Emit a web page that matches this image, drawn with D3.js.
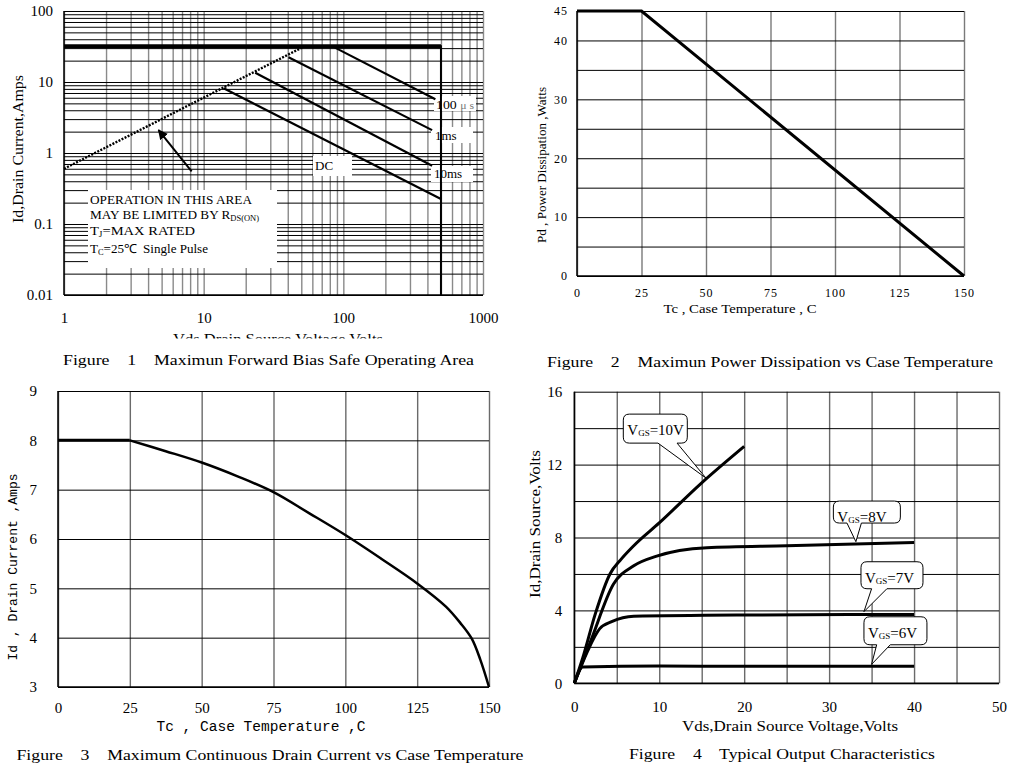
<!DOCTYPE html>
<html><head><meta charset="utf-8">
<script src="https://cdn.jsdelivr.net/npm/d3@7"></script>
<style>
body{margin:0;background:#fff;}
svg{display:block;}
text{font-family:"Liberation Serif","Times New Roman",serif;fill:#000;white-space:pre;}
.mono{font-family:"Liberation Mono","DejaVu Sans Mono",monospace;}
</style></head><body>
<svg id="c" width="1013" height="766"></svg>
<script>
// ---------- Figure 1 : Safe operating area (log-log) ----------
const fig1XTicks = [1, 10, 100, 1000];
const fig1YTicks = [0.01, 0.1, 1, 10, 100];
const fig1Limit = [[1, 32], [500, 32], [500, 0.01]];
const fig1Rds = [[1, 0.6], [53, 32]];
const fig1P100us = [[83, 32], [456, 5.7]];
const fig1P1ms = [[40.5, 22.3], [432, 2.1]];
const fig1P10ms = [[23.4, 13.5], [432, 0.66]];
const fig1DC = [[13.9, 8.15], [500, 0.225]];
const fig1Arrow = [[8.2, 0.55], [4.75, 2.1]];

// ---------- Figure 2 : Power dissipation ----------
const fig2XTicks = [0, 25, 50, 75, 100, 125, 150];
const fig2YTicks = [0, 10, 20, 30, 40, 45];
const fig2YGrid = [0, 5, 10, 15, 20, 25, 30, 35, 40, 45];
const fig2Tc = [0, 25, 150];
const fig2Pd = [45, 45, 0];

// ---------- Figure 3 : Continuous drain current ----------
const fig3XTicks = [0, 25, 50, 75, 100, 125, 150];
const fig3YTicks = [3, 4, 5, 6, 7, 8, 9];
const fig3FlatTc = [0, 25];
const fig3FlatId = [8, 8];
const fig3Tc = [25, 37.5, 50, 62.5, 75, 87.5, 100, 112.5, 125, 135, 140, 144, 147, 150];
const fig3Id = [8, 7.78, 7.55, 7.27, 6.95, 6.52, 6.08, 5.6, 5.1, 4.63, 4.3, 3.98, 3.55, 3.0];

// ---------- Figure 4 : Output characteristics ----------
const fig4XTicks = [0, 10, 20, 30, 40, 50];
const fig4XGrid = [0, 5, 10, 15, 20, 25, 30, 35, 40, 45, 50];
const fig4YTicks = [0, 4, 8, 12, 16];
const fig4YGrid = [0, 2, 4, 6, 8, 10, 12, 14, 16];
const fig4Vds10 = [0, 1, 2.5, 4.2, 5.5, 7, 10, 15, 20];
const fig4Id10 = [0, 1.4, 3.85, 6.0, 6.8, 7.55, 8.8, 11.0, 13.0];
const fig4Vds8 = [0, 2, 4.6, 7, 9.7, 15.6, 25, 40];
const fig4Id8 = [0, 2.4, 5.43, 6.45, 6.98, 7.44, 7.55, 7.72];
const fig4Vds7 = [0, 1.5, 3, 4.4, 7, 20, 40];
const fig4Id7 = [0, 1.7, 3.0, 3.38, 3.68, 3.75, 3.78];
const fig4Vds6 = [0, 1, 10, 20, 40];
const fig4Id6 = [0, 0.9, 0.95, 0.93, 0.93];
const fig4Labels = ['=10V', '=8V', '=7V', '=6V'];
const fig4CalloutTip = [[15.5, 11.26], [33.15, 7.77], [34.1, 3.93], [35.0, 1.04]];
const fig4CalloutBox = [[5.77, 14.77], [30.5, 10.0], [33.75, 6.67], [34.1, 3.65]];
const fig4CalloutBase = [[9.85, 12.1], [32.1, 33.8], [35.0, 36.8], [35.6, 37.2]];
const fig4CalloutSize = [[64, 29], [67, 22], [62, 27], [63, 28]];

// ---------- helpers ----------
const svg = d3.select('#c');
const zip = (a, b) => a.map((v, i) => [v, b[i]]);
function logMinor(lo, hi) {
  const a = [];
  for (let d = lo; d < hi * 0.999; d *= 10) for (let k = 1; k < 10; k++) a.push(+(d * k).toPrecision(6));
  a.push(hi);
  return a;
}
function drawGrid(g, xs, ys, xVals, yVals, vColor, vW, hColor, hW) {
  const [xa, xb] = xs.range(), [ya, yb] = ys.range();
  const gv = g.append('g').attr('transform', `translate(0,${ya})`)
    .call(d3.axisBottom(xs).tickValues(xVals).tickSize(-(ya - yb)).tickFormat(''));
  gv.select('.domain').remove();
  gv.selectAll('line').attr('stroke', vColor).attr('stroke-width', vW);
  const gh = g.append('g').attr('transform', `translate(${xa},0)`)
    .call(d3.axisLeft(ys).tickValues(yVals).tickSize(-(xb - xa)).tickFormat(''));
  gh.select('.domain').remove();
  gh.selectAll('line').attr('stroke', hColor).attr('stroke-width', hW);
}
function tickLabels(g, scale, orient, pos, vals, fmt, pad, fs, ls) {
  const ax = (orient === 'left' ? d3.axisLeft : d3.axisBottom)(scale)
    .tickValues(vals).tickSize(0).tickPadding(pad).tickFormat(fmt);
  const a = g.append('g')
    .attr('transform', orient === 'left' ? `translate(${pos},0)` : `translate(0,${pos})`)
    .call(ax);
  a.select('.domain').remove();
  a.attr('font-family', null).attr('font-size', null);
  a.selectAll('text').style('font-size', fs + 'px').style('letter-spacing', (ls || 0) + 'px');
}
function label(g, txt, x, y, fs, len, rot, cls) {
  const t = g.append('text').attr('x', x).attr('y', y).attr('text-anchor', 'middle')
    .style('font-size', fs + 'px').text(txt);
  if (len) t.attr('textLength', len).attr('lengthAdjust', 'spacingAndGlyphs');
  if (rot) t.attr('transform', `rotate(-90,${x},${y})`);
  if (cls) t.attr('class', cls);
  return t;
}
function border(g, xs, ys, color, w) {
  const [xa, xb] = xs.range(), [ya, yb] = ys.range();
  g.append('line').attr('x1', xa).attr('x2', xa).attr('y1', ya).attr('y2', yb).attr('stroke', color).attr('stroke-width', w);
  g.append('line').attr('x1', xa).attr('x2', xb).attr('y1', ya).attr('y2', ya).attr('stroke', color).attr('stroke-width', w);
}

svg.append('defs').html(`
  <marker id="ah" viewBox="0 0 10 10" refX="9" refY="5" markerWidth="5" markerHeight="5" orient="auto">
    <path d="M0,0 L10,5 L0,10 z" fill="#000"/></marker>
  <clipPath id="clip1"><rect x="0" y="0" width="500" height="338.5"/></clipPath>`);

// ================= Figure 1 =================
{
  const g = svg.append('g');
  const x = d3.scaleLog().domain([1, 1000]).range([64, 483]);
  const y = d3.scaleLog().domain([0.01, 100]).range([295, 11]);
  drawGrid(g, x, y, logMinor(1, 1000), logMinor(0.01, 100), '#8a8a8a', 1.4, '#000', 1);
  border(g, x, y, '#000', 1.5);
  const boxes = [[88, 190, 189, 78], [313, 156, 39, 20], [434, 96, 42, 15], [431, 127, 42, 16], [431, 166, 42, 16]];
  boxes.forEach(b => g.append('rect').attr('x', b[0]).attr('y', b[1]).attr('width', b[2]).attr('height', b[3]).attr('fill', '#fff'));
  const ln = d3.line().x(d => x(d[0])).y(d => y(d[1]));
  g.append('path').attr('d', ln(fig1Limit)).attr('fill', 'none').attr('stroke', '#000').attr('stroke-width', 2);
  g.append('path').attr('d', ln(fig1Limit.slice(0, 2))).attr('fill', 'none').attr('stroke', '#000').attr('stroke-width', 4);
  g.append('path').attr('d', ln(fig1Rds)).attr('fill', 'none').attr('stroke', '#000').attr('stroke-width', 2.4).attr('stroke-dasharray', '2,1.4');
  [fig1P100us, fig1P1ms, fig1P10ms, fig1DC].forEach(s =>
    g.append('path').attr('d', ln(s)).attr('fill', 'none').attr('stroke', '#000').attr('stroke-width', 2.2));
  g.append('path').attr('d', ln(fig1Arrow)).attr('fill', 'none').attr('stroke', '#000').attr('stroke-width', 2).attr('marker-end', 'url(#ah)');
  const t1 = g.append('text').attr('x', 436).attr('y', 108.5).style('font-size', '13px');
  t1.append('tspan').text('100 ');
  t1.append('tspan').style('fill', '#777').style('font-size', '11px').text('μ s');
  t1.attr('textLength', 38).attr('lengthAdjust', 'spacingAndGlyphs');
  g.append('text').attr('x', 435).attr('y', 140).style('font-size', '13px').text('1ms');
  g.append('text').attr('x', 434).attr('y', 178).style('font-size', '13px').text('10ms');
  g.append('text').attr('x', 315).attr('y', 170).style('font-size', '13px').text('DC');
  const fs = 12.5;
  g.append('text').attr('x', 90).attr('y', 203.5).style('font-size', fs + 'px').text('OPERATION IN THIS AREA')
    .attr('textLength', 162).attr('lengthAdjust', 'spacingAndGlyphs');
  const l2 = g.append('text').attr('x', 90).attr('y', 218.5).style('font-size', fs + 'px');
  l2.append('tspan').text('MAY BE LIMITED BY R');
  l2.append('tspan').attr('dy', 2).style('font-size', '8px').text('DS(ON)');
  l2.attr('textLength', 169).attr('lengthAdjust', 'spacingAndGlyphs');
  const l3 = g.append('text').attr('x', 90).attr('y', 234.5).style('font-size', fs + 'px');
  l3.append('tspan').text('T');
  l3.append('tspan').attr('dy', 2).style('font-size', '8px').text('J');
  l3.append('tspan').attr('dy', -2).text('=MAX RATED');
  l3.attr('textLength', 105).attr('lengthAdjust', 'spacingAndGlyphs');
  const l4 = g.append('text').attr('x', 90).attr('y', 252.5).style('font-size', fs + 'px');
  l4.append('tspan').text('T');
  l4.append('tspan').attr('dy', 2).style('font-size', '8px').text('C');
  l4.append('tspan').attr('dy', -2).text('=25℃  Single Pulse');
  l4.attr('textLength', 118).attr('lengthAdjust', 'spacingAndGlyphs');
  tickLabels(g, y, 'left', 64, fig1YTicks, d => d >= 1 ? d3.format('d')(d) : String(d), 11, 15);
  tickLabels(g, x, 'bottom', 295, fig1XTicks, d3.format('d'), 17.5, 15);
  label(g, 'Vds Drain Source Voltage Volts', 278, 344, 15, 210).attr('clip-path', 'url(#clip1)');
  label(g, 'Id,Drain Current,Amps', 22.5, 149, 15, 148, true);
  label(g, 'Figure    1    Maximun Forward Bias Safe Operating Area', 268.5, 365, 15, 411);
}

// ================= Figure 2 =================
{
  const g = svg.append('g');
  const x = d3.scaleLinear().domain([0, 150]).range([577, 964]);
  const y = d3.scaleLinear().domain([0, 45]).range([276, 11]);
  drawGrid(g, x, y, fig2XTicks, fig2YGrid, '#7a7a7a', 1.4, '#000', 1);
  border(g, x, y, '#000', 1.5);
  const ln = d3.line().x(d => x(d[0])).y(d => y(d[1]));
  g.append('path').attr('d', ln(zip(fig2Tc, fig2Pd))).attr('fill', 'none').attr('stroke', '#000').attr('stroke-width', 3);
  tickLabels(g, y, 'left', 577, fig2YTicks, d3.format('d'), 9, 12, 1);
  tickLabels(g, x, 'bottom', 276, fig2XTicks, d3.format('d'), 12.5, 12, 1);
  label(g, 'Tc , Case Temperature , C', 740, 313, 12, 153);
  label(g, 'Pd , Power Dissipation ,Watts', 546, 165, 12, 156, true);
  label(g, 'Figure    2    Maximun Power Dissipation vs Case Temperature', 770, 367, 15, 446);
}

// ================= Figure 3 =================
{
  const g = svg.append('g');
  const x = d3.scaleLinear().domain([0, 150]).range([58, 489]);
  const y = d3.scaleLinear().domain([3, 9]).range([687, 391]);
  drawGrid(g, x, y, fig3XTicks, fig3YTicks, '#6a6a6a', 1.4, '#000', 1);
  border(g, x, y, '#000', 1.5);
  const lnFlat = d3.line().x(d => x(d[0])).y(d => y(d[1]));
  const ln = d3.line().x(d => x(d[0])).y(d => y(d[1])).curve(d3.curveCatmullRom.alpha(0.5));
  g.append('path').attr('d', lnFlat(zip(fig3FlatTc, fig3FlatId))).attr('fill', 'none').attr('stroke', '#000').attr('stroke-width', 3);
  g.append('path').attr('d', ln(zip(fig3Tc, fig3Id))).attr('fill', 'none').attr('stroke', '#000').attr('stroke-width', 2.5);
  tickLabels(g, y, 'left', 58, fig3YTicks, d3.format('d'), 21, 15);
  tickLabels(g, x, 'bottom', 687, fig3XTicks, d3.format('d'), 15.5, 15);
  label(g, 'Tc , Case Temperature ,C', 261, 731, 14, 209, false, 'mono');
  label(g, 'Id , Drain Current ,Amps', 17, 567, 13, 187, true, 'mono');
  label(g, 'Figure    3    Maximum Continuous Drain Current vs Case Temperature', 270, 760, 15, 507);
}

// ================= Figure 4 =================
{
  const g = svg.append('g');
  const x = d3.scaleLinear().domain([0, 50]).range([574.3, 999]);
  const y = d3.scaleLinear().domain([0, 16]).range([683.3, 391.7]);
  drawGrid(g, x, y, fig4XGrid, fig4YGrid, '#6a6a6a', 1.4, '#000', 1);
  border(g, x, y, '#000', 1.5);
  const ln = d3.line().x(d => x(d[0])).y(d => y(d[1])).curve(d3.curveMonotoneX);
  [[fig4Vds10, fig4Id10], [fig4Vds8, fig4Id8], [fig4Vds7, fig4Id7], [fig4Vds6, fig4Id6]].forEach(s =>
    g.append('path').attr('d', ln(zip(s[0], s[1]))).attr('fill', 'none').attr('stroke', '#000').attr('stroke-width', 3));
  fig4Labels.forEach((lab, i) => {
    const bx = x(fig4CalloutBox[i][0]), by = y(fig4CalloutBox[i][1]);
    const [w, h] = fig4CalloutSize[i], r = 6;
    const tx = x(fig4CalloutTip[i][0]), ty = y(fig4CalloutTip[i][1]);
    const b1 = x(fig4CalloutBase[i][0]), b2 = x(fig4CalloutBase[i][1]);
    const p = `M${bx + r},${by} H${bx + w - r} Q${bx + w},${by} ${bx + w},${by + r} V${by + h - r} Q${bx + w},${by + h} ${bx + w - r},${by + h} H${b2} L${tx},${ty} L${b1},${by + h} H${bx + r} Q${bx},${by + h} ${bx},${by + h - r} V${by + r} Q${bx},${by} ${bx + r},${by} Z`;
    g.append('path').attr('d', p).attr('fill', '#fff').attr('stroke', '#000').attr('stroke-width', 1);
    const t = g.append('text').attr('x', bx + 4).attr('y', by + 21).style('font-size', '15px');
    t.append('tspan').text('V');
    t.append('tspan').attr('dy', 1).style('font-size', '9px').text('GS');
    t.append('tspan').attr('dy', -1).text(lab);
  });
  tickLabels(g, y, 'left', 574.3, fig4YTicks, d3.format('d'), 12, 15);
  tickLabels(g, x, 'bottom', 683.3, fig4XTicks, d3.format('d'), 18.5, 15);
  label(g, 'Vds,Drain Source Voltage,Volts', 790, 731, 15, 216);
  label(g, 'Id,Drain Source,Volts', 540, 524, 15, 148, true);
  label(g, 'Figure    4    Typical Output Characteristics', 782, 759, 15, 306);
}
</script>
</body></html>
